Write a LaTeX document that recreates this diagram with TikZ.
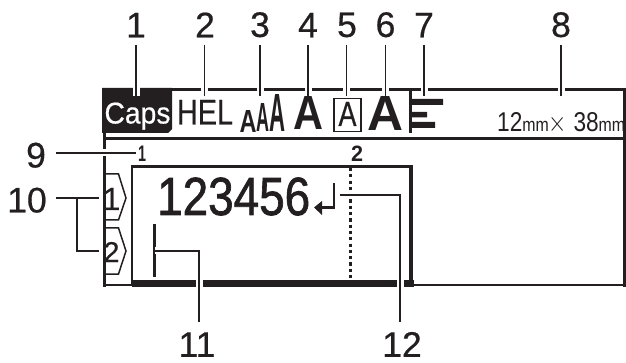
\documentclass[tikz,border=0pt]{standalone}
\usepackage{fontspec}
\setmainfont{Liberation Sans}
\newfontfamily\heavy[FakeBold=1.4]{Liberation Sans}
\newfontfamily\semi[FakeBold=0.5]{Liberation Sans}
\usepackage{graphicx}
\definecolor{ink}{HTML}{231F20}
\tikzset{
  x=1pt,y=-1pt,
  num/.style={inner sep=0pt,text=ink,font=\semi\fontsize{35.5}{36}\selectfont,anchor=south},
  leader/.style={draw=ink,line width=1.5pt,preaction={draw=white,line width=7pt}},
  plain leader/.style={draw=ink,line width=1.5pt},
  frame/.style={draw=ink,line cap=rect},
  tabshape/.style={draw=ink,line width=1.5pt,fill=white},
  icon/.style={inner sep=0pt,text=ink,anchor=base},
}
\begin{document}
\begin{tikzpicture}
\useasboundingbox (0,0) rectangle (626,363);
% frames
\draw[frame,line width=3pt] (104,90) -- (624.5,90) -- (624.5,285) ;
\draw[frame,line width=2.5pt] (412,285) -- (624.5,285);
\draw[frame,line width=3pt] (104,139) -- (624.5,139);
\draw[frame,line width=3pt] (104,90) -- (104,285);
\draw[frame,line width=2pt] (104,285) -- (132,285);
\fill[ink] (102,88) -- (172,88) -- (172,129) -- (168,133) -- (102,133) -- cycle;
% text area
\draw[frame,line width=2.6pt] (132,283) -- (132,166.5) -- (411,166.5);
\draw[frame,line width=4pt] (411,167) -- (411,283);
\fill[ink] (132,280) rectangle (414,286.5);
\draw[ink,line width=3pt,dash pattern=on 3.2pt off 3.1pt] (350,168) -- (350,278);
% status
\node[icon,text=white] (caps) at (137.5,123.5) {\resizebox{66pt}{21pt}{\semi\fontsize{26}{26}\selectfont Caps}};
\node[icon] (hel) at (205,124.5) {\resizebox{56pt}{24.5pt}{\semi\fontsize{26}{26}\selectfont HEL}};
\node[icon] (sa) at (248,133) {\resizebox{17pt}{22pt}{\bfseries\fontsize{20}{20}\selectfont A}};
\node[icon] (sb) at (263,132) {\resizebox{13pt}{28pt}{\bfseries\fontsize{20}{20}\selectfont A}};
\node[icon] (sc) at (277.5,132) {\resizebox{16pt}{37pt}{\bfseries\fontsize{20}{20}\selectfont A}};
\node[icon] (sd) at (308,130) {\resizebox{30pt}{33pt}{\bfseries\fontsize{20}{20}\selectfont A}};
\draw[ink,line width=1.8pt] (334,98.5) rectangle (361,131.5);
\node[icon] (se) at (347.5,126) {\resizebox{18pt}{24pt}{\semi\fontsize{20}{20}\selectfont A}};
\node[icon] (sf) at (385,131) {\resizebox{36pt}{34pt}{\bfseries\fontsize{20}{20}\selectfont A}};
\draw[ink,line width=2.4pt] (410.5,91) -- (410.5,133);
\fill[ink] (410,99) rectangle (443,105) (410,112) rectangle (427,117.5) (410,122) rectangle (435,128);
\node[icon,anchor=base west] (size) at (497,131.5) {\resizebox{128pt}{19pt}{\fontsize{20}{20}\selectfont 12{\fontsize{14}{14}\selectfont mm}$\times$\ 38{\fontsize{14}{14}\selectfont mm}}};
% ruler
\node[icon] (r1) at (142,162) {\resizebox{8pt}{15.5pt}{\bfseries\fontsize{20}{20}\selectfont 1}};
\node[icon] (r2) at (357,162) {\resizebox{12pt}{15.5pt}{\bfseries\fontsize{20}{20}\selectfont 2}};
% tabs
\draw[tabshape] (104,174) -- (118.5,174) -- (126,198) -- (118.5,220) -- (104,220);
\draw[tabshape] (104,228) -- (118.5,228) -- (126,251) -- (118.5,274) -- (104,274);
\draw[frame,line width=3pt] (104,170) -- (104,280);
\node[icon] (t1) at (111.5,210) {\resizebox{!}{22pt}{\semi\fontsize{20}{20}\selectfont 1}};
\node[icon] (t2) at (111.5,262) {\resizebox{!}{20pt}{\semi\fontsize{20}{20}\selectfont 2}};
% input
\node[icon,anchor=base west] (txt) at (157,215) {\resizebox{153pt}{37.5pt}{\heavy\fontsize{40}{40}\selectfont 123456}};
\draw[ink,line width=2.5pt] (334,183) -- (334,207.5) -- (320,207.5);
\fill[ink] (314,207.5) -- (322,201) -- (322,215) -- cycle;
\draw[ink,line width=2.4pt] (154.5,224) -- (154.5,277);
% number labels
\node[num] (n1) at (136,37.5) {1};
\node[num] (n2) at (205,37.5) {2};
\node[num] (n3) at (260,37.5) {3};
\node[num] (n4) at (308,37.5) {4};
\node[num] (n5) at (347,37.5) {5};
\node[num] (n6) at (385.5,37.5) {6};
\node[num] (n7) at (424,37.5) {7};
\node[num] (n8) at (561,37.5) {8};
\node[num] (n9) at (36,168) {9};
\node[num] (n10) at (27,213) {10};
\node[num] (n11) at (197,357) {11};
\node[num] (n12) at (402,357) {12};
% leader ends
\foreach \i/\px in {1/136,2/204.5,3/260,4/308,5/346.5,6/385.5,7/424,8/561}{
  \coordinate (e\i) at (\px,96);
  \coordinate (s\i) at (\px,45);
  \draw[leader] (s\i) -- (e\i);
}
\coordinate (s9) at (56,153);
\coordinate (e9) at (136,153);
\draw[leader] (s9) -- (e9);
\coordinate (s10) at (56,198);
\coordinate (e10a) at (99,198);
\coordinate (b10) at (77,198);
\coordinate (c10) at (77,251);
\coordinate (e10b) at (99,251);
\draw[plain leader] (s10) -- (e10a);
\draw[plain leader] (b10) -- (c10) -- (e10b);
\coordinate (s11) at (155,251);
\coordinate (c11) at (199,251);
\coordinate (e11) at (199,322);
\draw[leader] (s11) -- (c11) -- (e11);
\coordinate (s12) at (340,195);
\coordinate (c12) at (400,195);
\coordinate (e12) at (400,322);
\draw[leader] (s12) -- (c12) -- (e12);
\end{tikzpicture}
\end{document}
